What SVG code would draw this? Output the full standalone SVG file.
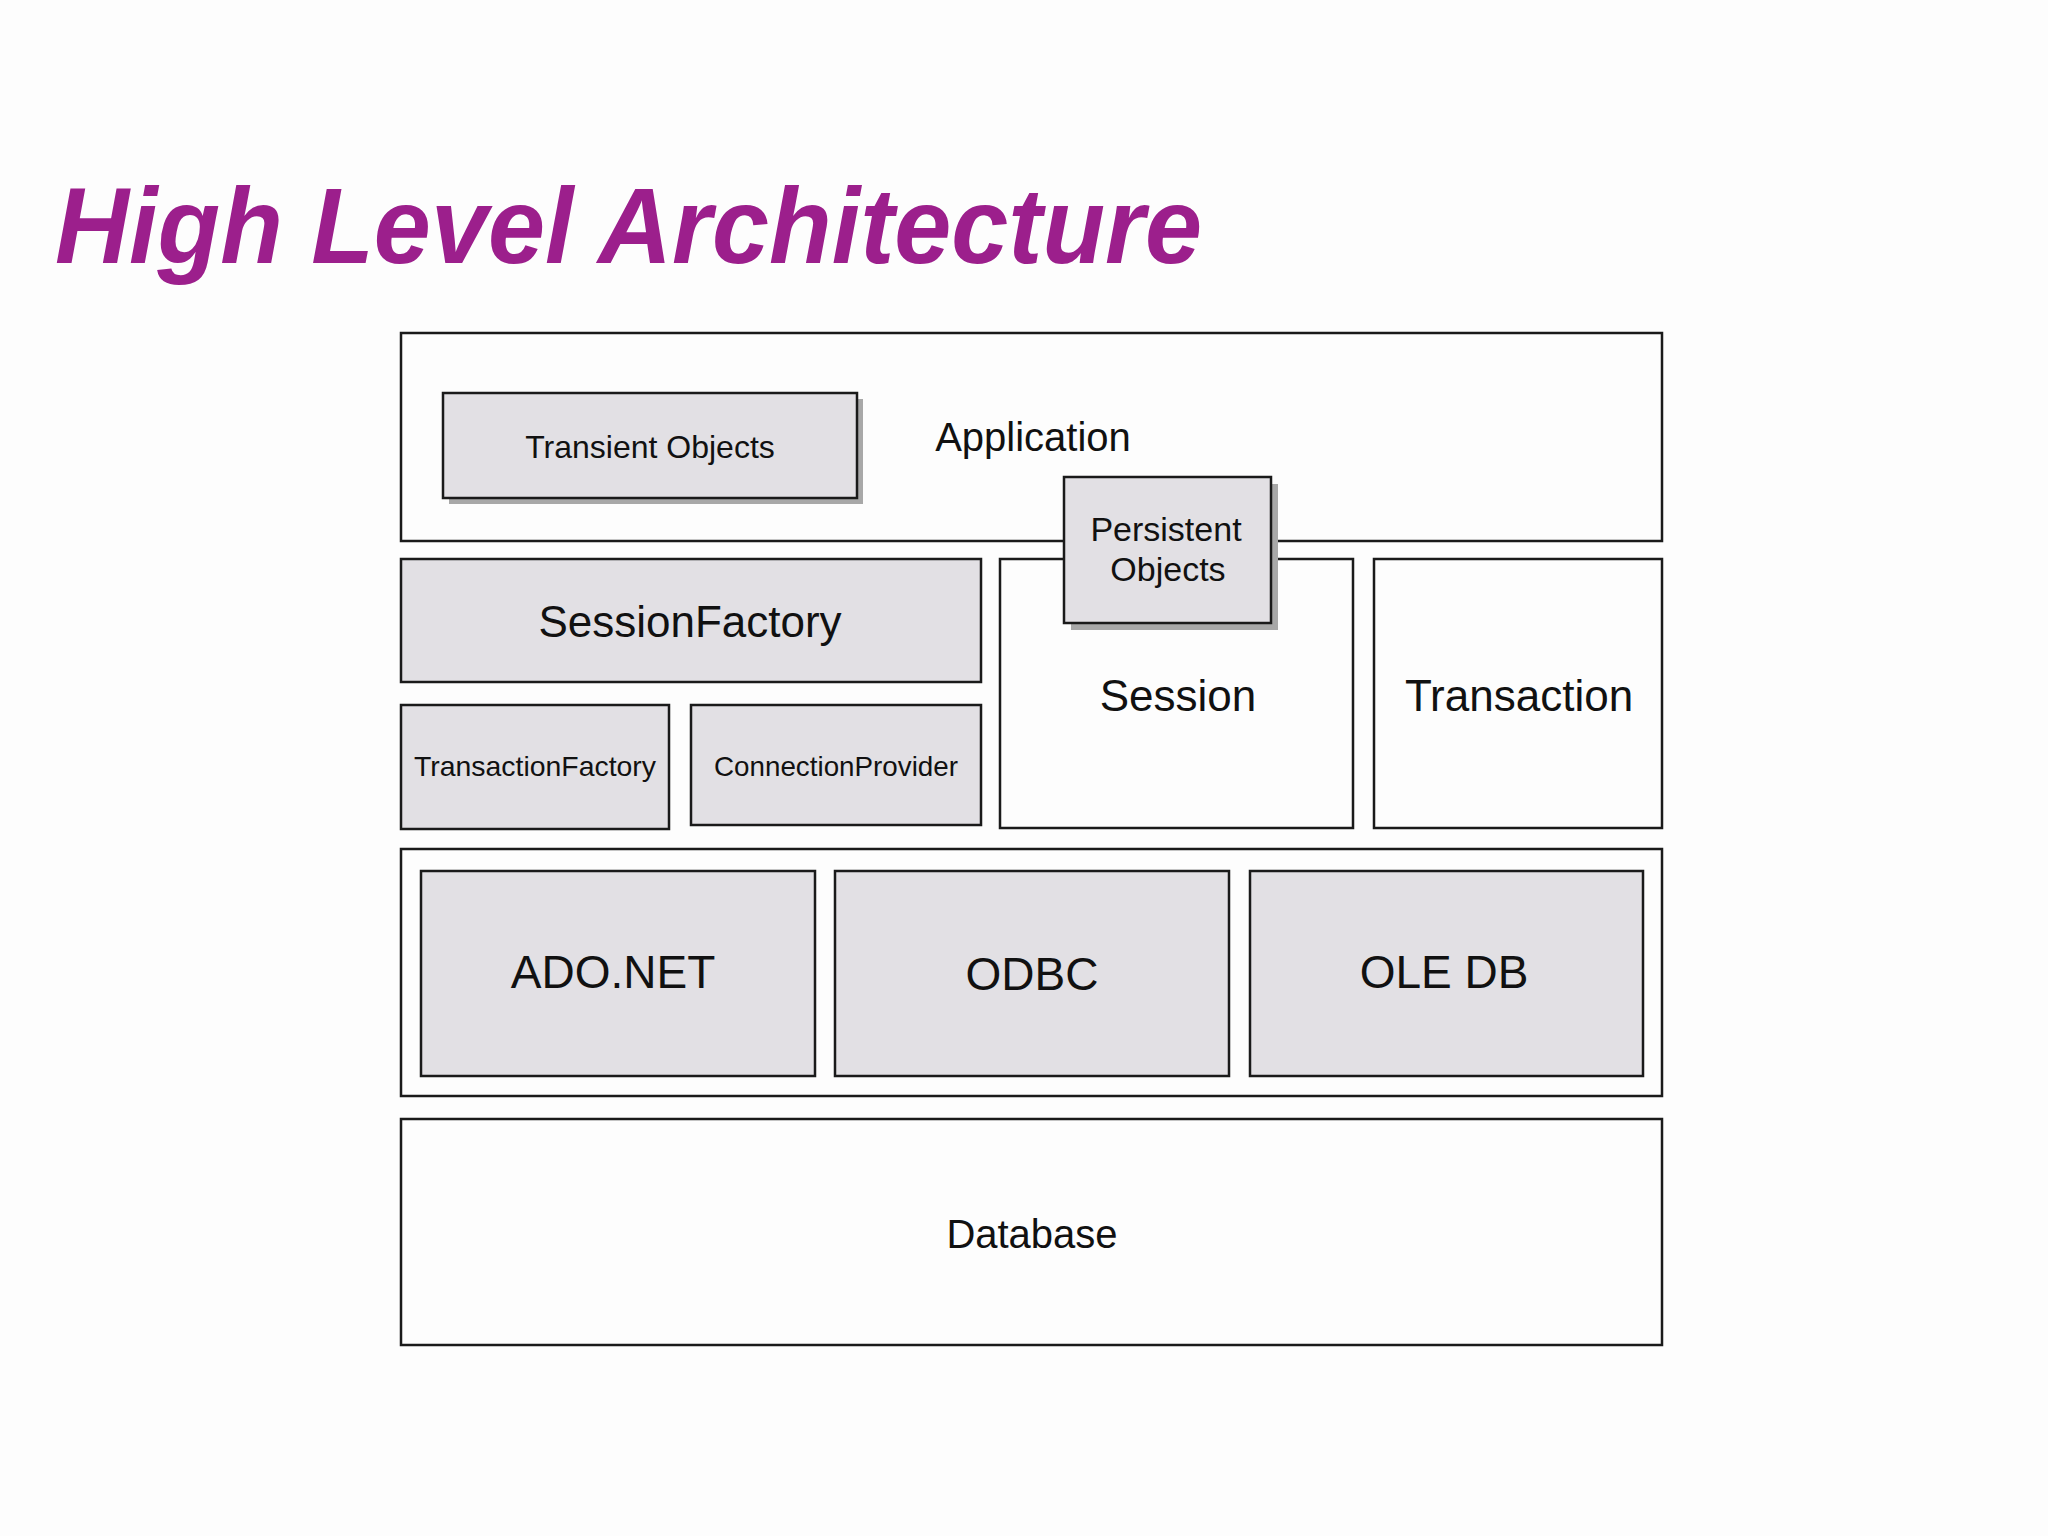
<svg xmlns="http://www.w3.org/2000/svg" width="2048" height="1536" viewBox="0 0 2048 1536">
<style>
.w{fill:#fdfdfd;stroke:#1a1a1a;stroke-width:2.5}
.g{fill:#e2e0e4;stroke:#1a1a1a;stroke-width:2.5}
.s{fill:#a8a8a8}
text{font-family:"Liberation Sans",Arial,sans-serif;fill:#111;text-anchor:middle}
</style>
<rect width="2048" height="1536" fill="#fdfdfd"/>
<text x="55" y="263" style="font-size:108px;font-weight:bold;font-style:italic;fill:#9c1f8c;text-anchor:start" textLength="1147" lengthAdjust="spacingAndGlyphs">High Level Architecture</text>
<g id="application"><rect class="w" x="401" y="333" width="1261" height="208"/><text x="1033" y="451" font-size="40">Application</text></g>
<g id="transient"><rect class="s" x="449" y="399" width="414" height="105"/><rect class="g" x="443" y="393" width="414" height="105"/><text x="650" y="458" font-size="32">Transient Objects</text></g>
<g id="sessionfactory"><rect class="g" x="401" y="559" width="580" height="123"/><text x="690" y="637" font-size="44">SessionFactory</text></g>
<g id="transactionfactory"><rect class="g" x="401" y="705" width="268" height="124"/><text x="535" y="776" font-size="28" textLength="242" lengthAdjust="spacingAndGlyphs">TransactionFactory</text></g>
<g id="connectionprovider"><rect class="g" x="691" y="705" width="290" height="120"/><text x="836" y="776" font-size="28" textLength="244" lengthAdjust="spacingAndGlyphs">ConnectionProvider</text></g>
<g id="session"><rect class="w" x="1000" y="559" width="353" height="269"/><text x="1178" y="711" font-size="44">Session</text></g>
<g id="transaction"><rect class="w" x="1374" y="559" width="288" height="269"/><text x="1519" y="711" font-size="44">Transaction</text></g>
<g id="persistent"><rect class="s" x="1071" y="484" width="207" height="146"/><rect class="g" x="1064" y="477" width="207" height="146"/><text x="1166" y="541" font-size="34">Persistent</text><text x="1168" y="581" font-size="34">Objects</text></g>
<g id="drivers"><rect class="w" x="401" y="849" width="1261" height="247"/></g>
<g id="adonet"><rect class="g" x="421" y="871" width="394" height="205"/><text x="613" y="988" font-size="46">ADO.NET</text></g>
<g id="odbc"><rect class="g" x="835" y="871" width="394" height="205"/><text x="1032" y="990" font-size="46">ODBC</text></g>
<g id="oledb"><rect class="g" x="1250" y="871" width="393" height="205"/><text x="1444" y="988" font-size="46">OLE DB</text></g>
<g id="database"><rect class="w" x="401" y="1119" width="1261" height="226"/><text x="1032" y="1248" font-size="40">Database</text></g>
<g id="connectors"/>
</svg>
